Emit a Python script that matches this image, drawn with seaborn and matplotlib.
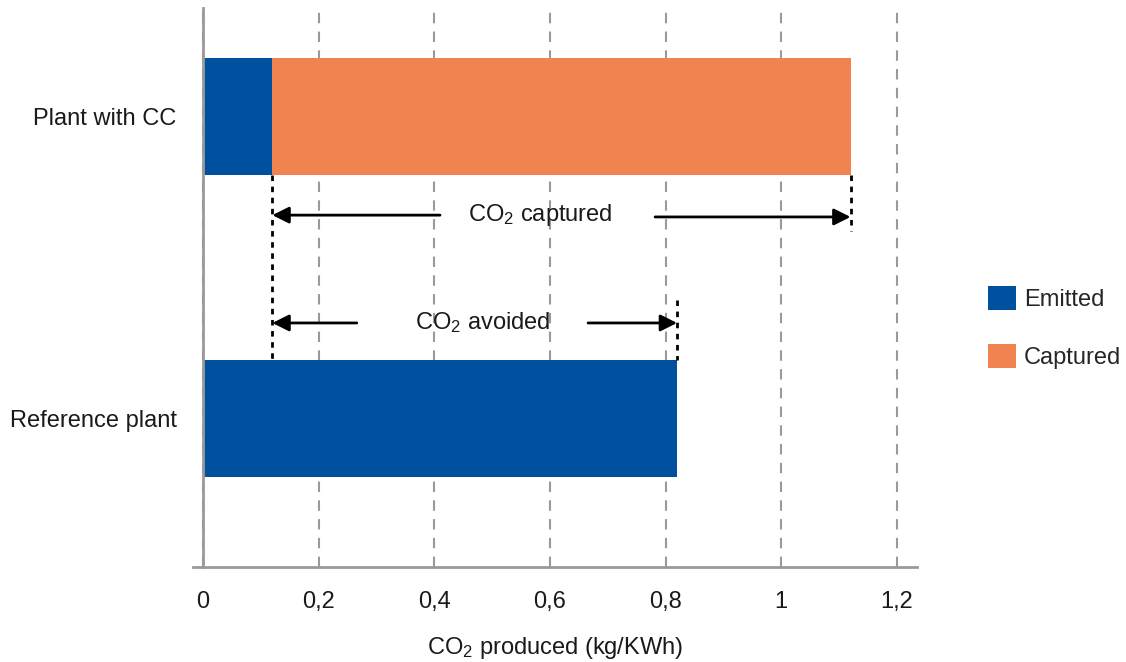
import matplotlib
matplotlib.use('Agg')
import matplotlib.pyplot as plt
from matplotlib.patches import Patch
import seaborn as sns
import pandas as pd

# data
plants = ['Plant with CC', 'Reference plant']
emitted = [0.12, 0.82]
captured = [1.00, 0.00]
x_ticks = [0, 0.2, 0.4, 0.6, 0.8, 1.0, 1.2]
x_tick_labels = ['0', '0,2', '0,4', '0,6', '0,8', '1', '1,2']
legend_labels = ['Emitted', 'Captured']

blue = '#0050A0'
orange = '#F0834F'
grey = '#9a9a9a'
txt = '#1a1a1a'
fs = 17

sns.set_style('white')
plt.rcParams['font.family'] = ['Liberation Sans', 'DejaVu Sans']
plt.rcParams['mathtext.fontset'] = 'custom'
plt.rcParams['mathtext.rm'] = 'Liberation Sans'
plt.rcParams['mathtext.it'] = 'Liberation Sans'
plt.rcParams['mathtext.default'] = 'regular'

df = pd.DataFrame({'plant': plants, 'emitted': emitted, 'captured': captured})
df['total'] = df['emitted'] + df['captured']

fig = plt.figure(figsize=(11.26, 6.62), dpi=100)
ax = fig.add_axes([0.1714, 0.1435, 0.643, 0.8445])

bar_w = 0.387
# stacked: total (orange) underneath, emitted (blue) on top
sns.barplot(data=df, x='total', y='plant', color=orange, saturation=1,
            width=bar_w, linewidth=0, ax=ax)
sns.barplot(data=df, x='emitted', y='plant', color=blue, saturation=1,
            width=bar_w, linewidth=0, ax=ax)

ax.set_xlim(-0.0173, 1.235)
ax.set_ylim(1.493, -0.358)

ax.set_xticks(x_ticks)
ax.set_xticklabels(x_tick_labels, fontsize=fs, color=txt)
ax.tick_params(axis='x', length=0, pad=17)
ax.tick_params(axis='y', length=0, pad=19, labelsize=fs, labelcolor=txt)
ax.set_ylabel('')
ax.set_xlabel('CO$_2$ produced (kg/KWh)', fontsize=fs, color=txt, labelpad=16)

ax.set_axisbelow(True)
ax.grid(axis='x', color=grey, linestyle=(0, (5, 4)), linewidth=1.5)
ax.grid(axis='y', visible=False)

for s in ['top', 'right']:
    ax.spines[s].set_visible(False)
ax.spines['left'].set_position(('data', 0))
ax.spines['left'].set_color(grey)
ax.spines['left'].set_linewidth(2)
ax.spines['bottom'].set_color(grey)
ax.spines['bottom'].set_linewidth(2)

# annotation geometry derived from the data
cc_emit = emitted[0]
cc_total = df['total'][0]
ref_total = df['total'][1]
bar_bottom = 0 + bar_w / 2
ref_top = 1 - bar_w / 2

dash = dict(color='black', linestyle=(0, (2, 2)), linewidth=2)
ax.plot([cc_emit, cc_emit], [bar_bottom, ref_top], **dash)
ax.plot([cc_total, cc_total], [bar_bottom, 0.38], **dash)
ax.plot([ref_total, ref_total], [0.61, ref_top], **dash)

arrow = dict(arrowstyle='-|>', color='black', lw=2, mutation_scale=25,
             shrinkA=0, shrinkB=0)
y_cap = 0.328
ax.annotate('', xy=(cc_emit, y_cap), xytext=(0.41, y_cap), arrowprops=arrow)
ax.annotate('', xy=(cc_total, y_cap + 0.006), xytext=(0.782, y_cap + 0.006), arrowprops=arrow)
ax.text(0.583, y_cap, 'CO$_2$ captured', ha='center', va='center', fontsize=fs, color=txt)

y_av = 0.685
ax.annotate('', xy=(cc_emit, y_av), xytext=(0.266, y_av), arrowprops=arrow)
ax.annotate('', xy=(ref_total, y_av), xytext=(0.666, y_av), arrowprops=arrow)
ax.text(0.484, y_av, 'CO$_2$ avoided', ha='center', va='center', fontsize=fs, color=txt)

handles = [Patch(facecolor=blue, edgecolor='none'), Patch(facecolor=orange, edgecolor='none')]
fig.legend(handles, legend_labels, loc='upper left', bbox_to_anchor=(0.877, 0.568),
           frameon=False, fontsize=fs, handlelength=1.2, handleheight=1.2,
           handletextpad=0.35, labelspacing=1.4, borderpad=0, borderaxespad=0)

fig.savefig('out.png', dpi=100)
